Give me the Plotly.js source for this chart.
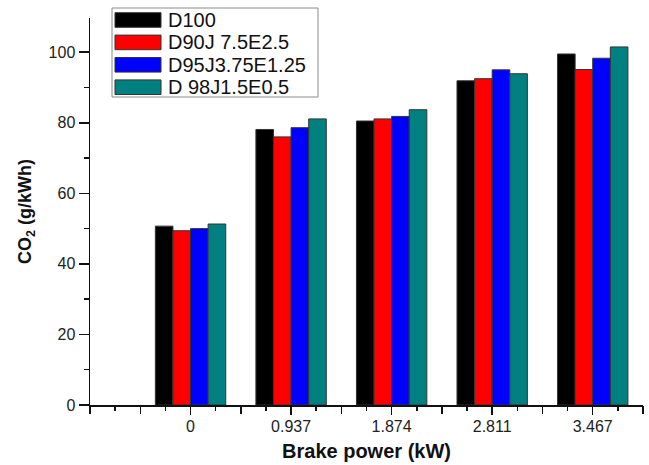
<!DOCTYPE html>
<html>
<head>
<meta charset="utf-8">
<script src="https://cdn.plot.ly/plotly-3.0.1.min.js"></script>
<style>html,body{margin:0;padding:0;background:#fff;}#chart{width:649px;height:465px;}</style>
</head>
<body>
<div id="chart"></div>
<script>
const categories = ['0', '0.937', '1.874', '2.811', '3.467'];
const seriesNames = ['D100', 'D90J 7.5E2.5', 'D95J3.75E1.25', 'D 98J1.5E0.5'];
const seriesColors = ['#000000', '#ff0000', '#0000ff', '#008080'];
const d100 = [50.7, 78.1, 80.5, 91.9, 99.5];
const d90 = [49.4, 76.0, 81.1, 92.5, 95.1];
const d95 = [50.0, 78.6, 81.8, 95.0, 98.3];
const d98 = [51.3, 81.1, 83.7, 93.9, 101.5];
const seriesValues = [d100, d90, d95, d98];

const W = 649, H = 465;
const M = {l: 90, r: 6, t: 18, b: 60};
const PW = W - M.l - M.r, PH = H - M.t - M.b;
const px2x = p => (p - M.l) / PW;
const px2y = p => (H - M.b - p) / PH;

const xIdx = categories.map((c, i) => i);
const traces = seriesValues.map((vals, k) => ({
  type: 'bar',
  name: seriesNames[k],
  x: xIdx,
  y: vals,
  marker: {color: seriesColors[k], line: {color: '#333333', width: 1}},
  hoverinfo: 'y'
}));
// invisible trace to activate the second x axis (half-step ticks)
traces.push({type: 'scatter', x: [], y: [], xaxis: 'x2', yaxis: 'y', showlegend: false, hoverinfo: 'skip'});

const halfTicks = [];
for (let v = -1; v <= 4.5001; v += 0.5) {
  if (Math.abs(v - Math.round(v)) > 1e-6 || v < 0) halfTicks.push(v);
}

// custom legend built from the series arrays
const font = 'Liberation Sans, Arial, sans-serif';
const shapes = [{
  type: 'rect', xref: 'paper', yref: 'paper',
  x0: px2x(112), x1: px2x(318), y0: px2y(97), y1: px2y(8),
  line: {color: '#8a8a8a', width: 1}, fillcolor: '#ffffff', layer: 'above'
}];
const annotations = [];
seriesNames.forEach((name, k) => {
  const cy = 20 + k * 22.4;
  shapes.push({
    type: 'rect', xref: 'paper', yref: 'paper',
    x0: px2x(115), x1: px2x(161), y0: px2y(cy + 7.3), y1: px2y(cy - 7.3),
    line: {color: '#333333', width: 1}, fillcolor: seriesColors[k], layer: 'above'
  });
  annotations.push({
    xref: 'paper', yref: 'paper', x: px2x(166), y: px2y(cy),
    xanchor: 'left', yanchor: 'middle', showarrow: false,
    text: name, font: {size: 20, family: font, color: '#111'}
  });
});

const layout = {
  width: W, height: H,
  margin: M,
  paper_bgcolor: '#fff', plot_bgcolor: '#fff',
  font: {size: 16, family: font, color: '#222'},
  barmode: 'group', bargap: 0.30, bargroupgap: 0,
  showlegend: false,
  shapes: shapes,
  annotations: annotations,
  xaxis: {
    range: [-1, 4.5], showgrid: false, zeroline: false,
    showline: true, linecolor: '#111', linewidth: 1.5,
    ticks: 'outside', ticklen: 8, tickwidth: 1.5, tickcolor: '#111',
    tickmode: 'array', tickvals: xIdx, ticktext: categories,
    tickfont: {size: 16, family: font, color: '#222'},
    ticklabelstandoff: -2,
    minor: {dtick: 0.25, tick0: 0, ticks: 'outside', ticklen: 4, tickwidth: 1.5, tickcolor: '#111', showgrid: false},
    title: {text: '<b>Brake power (kW)</b>', font: {size: 20, family: font, color: '#111'}, standoff: 10}
  },
  xaxis2: {
    overlaying: 'x', anchor: 'y', side: 'bottom',
    range: [-1, 4.5], showgrid: false, zeroline: false, showline: false,
    ticks: 'outside', ticklen: 8, tickwidth: 1.5, tickcolor: '#111',
    tickmode: 'array', tickvals: halfTicks, showticklabels: false
  },
  yaxis: {
    range: [0, 109.7], showgrid: false, zeroline: false,
    showline: true, linecolor: '#111', linewidth: 1.5,
    ticks: 'outside', ticklen: 10, tickwidth: 1.5, tickcolor: '#111',
    dtick: 20, tick0: 0,
    tickfont: {size: 16, family: font, color: '#222'},
    minor: {dtick: 10, ticks: 'outside', ticklen: 5, tickwidth: 1.5, tickcolor: '#111', showgrid: false},
    title: {text: '<b>CO<sub>2</sub> (g/kWh)</b>', font: {size: 18, family: font, color: '#111'}, standoff: 12}
  }
};

Plotly.newPlot('chart', traces, layout, {displayModeBar: false, staticPlot: true});
</script>
</body>
</html>
